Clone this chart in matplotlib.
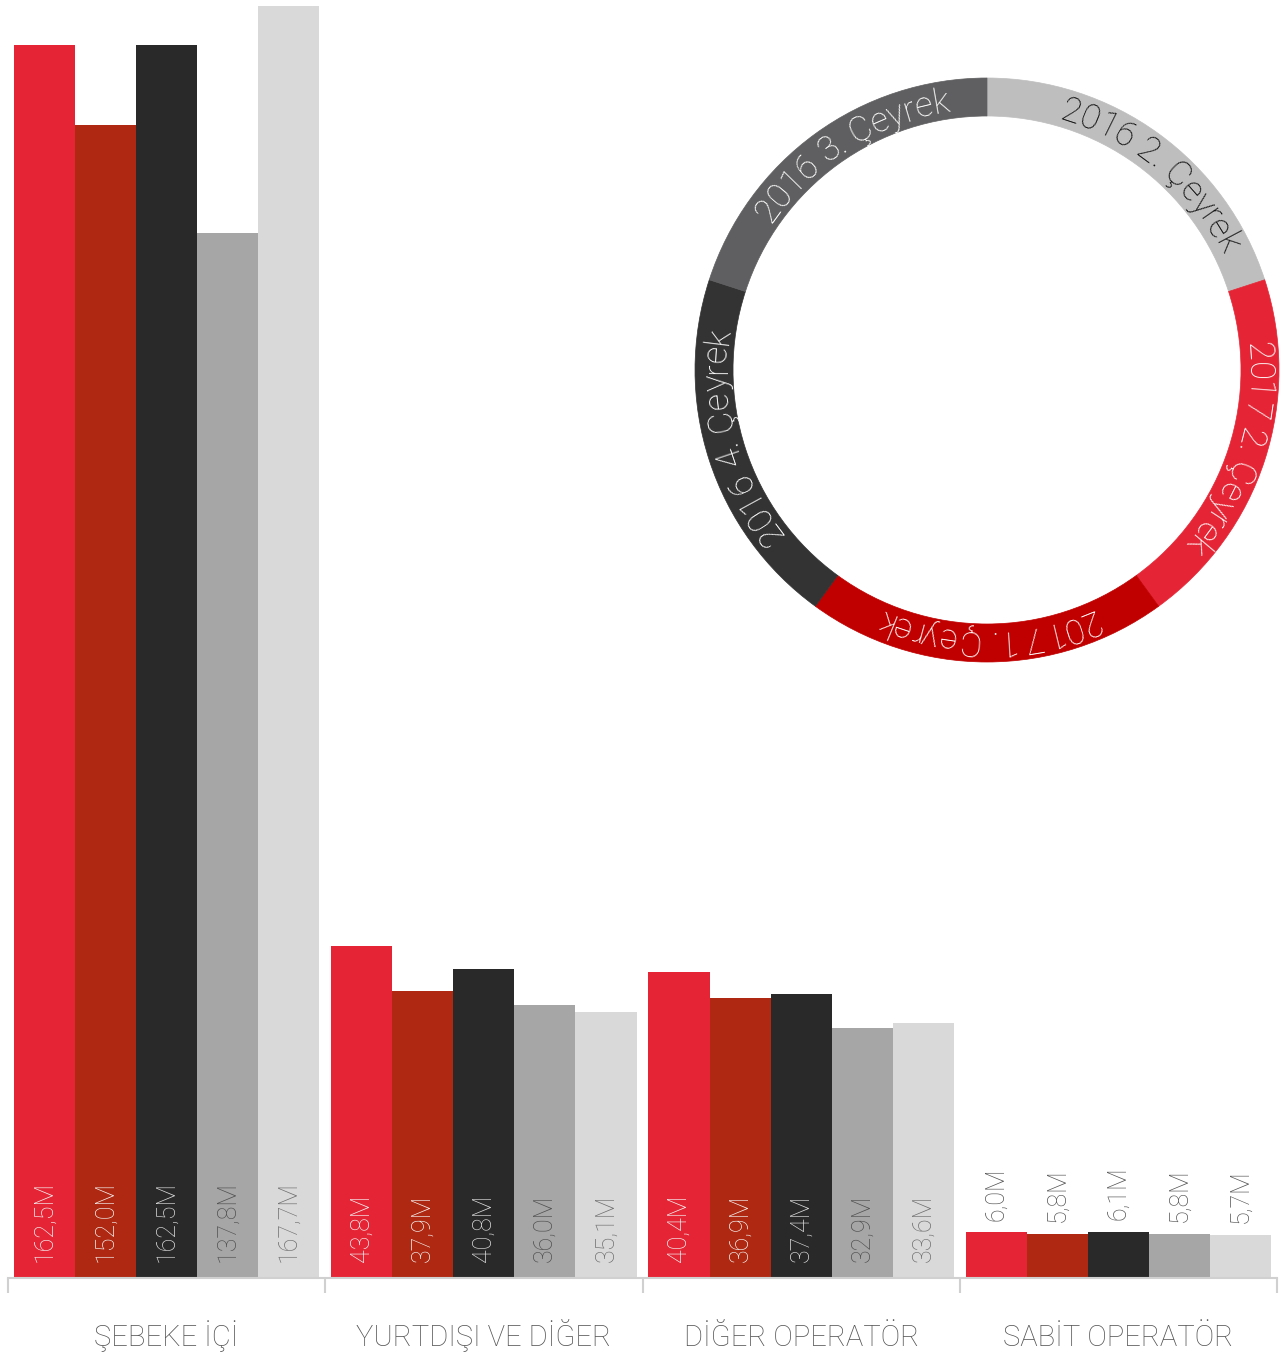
import matplotlib
matplotlib.use('Agg')
import matplotlib.pyplot as plt
from matplotlib.patches import Wedge
from matplotlib.font_manager import FontProperties
import numpy as np

plt.rcParams['font.family'] = ['Roboto', 'DejaVu Sans']
plt.rcParams['font.weight'] = 'light'

# ---------------- data ----------------
categories = ["ŞEBEKE İÇİ", "YURTDIŞI VE DİĞER", "DİĞER OPERATÖR", "SABİT OPERATÖR"]
s1 = [162.5, 43.8, 40.4, 6.0]
s2 = [152.0, 37.9, 36.9, 5.8]
s3 = [162.5, 40.8, 37.4, 6.1]
s4 = [137.8, 36.0, 32.9, 5.8]
s5 = [167.7, 35.1, 33.6, 5.7]
series = [s1, s2, s3, s4, s5]
bar_colors = ["#e52535", "#af2811", "#292929", "#a6a6a6", "#d9d9d9"]
inside_label_colors = ["#f3f3f3", "#f3f3f3", "#dddddd", "#505050", "#6e6e6e"]

ring_labels = ["2016 2. Çeyrek", "2017 2. Çeyrek", "2017 1. Çeyrek",
               "2016 4. Çeyrek", "2016 3. Çeyrek"]
ring_colors = ["#bebebe", "#e52535", "#c00000", "#333333", "#5f5f61"]
ring_text_colors = ["#111111", "white", "white", "white", "white"]
ring_text_shift = [-4, 0, 0, -3, -4]   # degrees, clockwise shift of the label

# ---------------- figure ----------------
W, H = 1287, 1355
fig = plt.figure(figsize=(W / 100, H / 100), dpi=100)
ax = fig.add_axes([8 / W, 77 / H, 1269 / W, 1278 / H])

n = len(series)
bw = 0.1925
x = np.arange(len(categories))
for i, (vals, col) in enumerate(zip(series, bar_colors)):
    xs = x + (i - (n - 1) / 2) * bw
    ax.bar(xs, vals, width=bw, color=col, linewidth=0)
    for xi, v in zip(xs, vals):
        lab = f"{v:.1f}".replace('.', ',') + "M"
        if v >= 20:
            ax.annotate(lab, xy=(xi, 0), xytext=(0, 11.5), textcoords='offset points',
                        rotation=90, ha='center', va='bottom', fontsize=18,
                        color=inside_label_colors[i], fontweight='light')
        else:
            ax.annotate(lab, xy=(xi, v), xytext=(0, 8.5), textcoords='offset points',
                        rotation=90, ha='center', va='bottom', fontsize=18,
                        color="#555555", fontweight='light')

ax.set_xlim(-0.5, len(categories) - 0.5)
ax.set_ylim(0, 1278 / 7.585)
for s in ['top', 'left', 'right']:
    ax.spines[s].set_visible(False)
ax.spines['bottom'].set_color('#d0d0d0')
ax.spines['bottom'].set_linewidth(1.5)
ax.set_yticks([])
ax.set_xticks(x)
ax.set_xticklabels(categories, fontsize=21, color='#555555', fontweight='light')
for t in ax.get_xticklabels():
    t.set_verticalalignment('baseline')
ax.set_xticks(np.arange(-0.5, len(categories)), minor=True)
ax.tick_params(axis='x', which='major', length=0, pad=49)
ax.tick_params(axis='x', which='minor', length=10.8, width=1.5, color='#d0d0d0', direction='out')

# ---------------- ring legend ----------------
ax2 = fig.add_axes([(987 - 300) / W, (H - 370 - 300) / H, 600 / W, 600 / H])
ax2.set_xlim(-300, 300)
ax2.set_ylim(-300, 300)
ax2.set_aspect('equal')
ax2.axis('off')

R_out, ring_w = 292, 38
r_base = 261
r_arc = 266
fs = 25
fp = FontProperties(family=['Roboto', 'DejaVu Sans'], weight='light', size=fs)
renderer = fig.canvas.get_renderer()

def text_width(s):
    if not s:
        return 0.0
    w, h, d = renderer.get_text_width_height_descent(s, fp, ismath=False)
    return w

for k, (lab, col, tcol) in enumerate(zip(ring_labels, ring_colors, ring_text_colors)):
    t2 = 90 - 72 * k
    t1 = t2 - 72
    ax2.add_patch(Wedge((0, 0), R_out, t1, t2, width=ring_w, facecolor=col, edgecolor=col, linewidth=0.5))
    mid = np.radians((t1 + t2) / 2 + ring_text_shift[k])
    total = text_width(lab)
    for j, ch in enumerate(lab):
        if ch == ' ':
            continue
        left = text_width(lab[:j])
        right = text_width(lab[:j + 1])
        s_c = (left + right) / 2 - total / 2
        th = mid - s_c / r_arc
        px, py = r_base * np.cos(th), r_base * np.sin(th)
        ax2.text(px, py, ch, rotation=np.degrees(th) - 90, rotation_mode='anchor',
                 ha='center', va='baseline', fontproperties=fp, color=tcol)

fig.savefig('out.png', dpi=100)
